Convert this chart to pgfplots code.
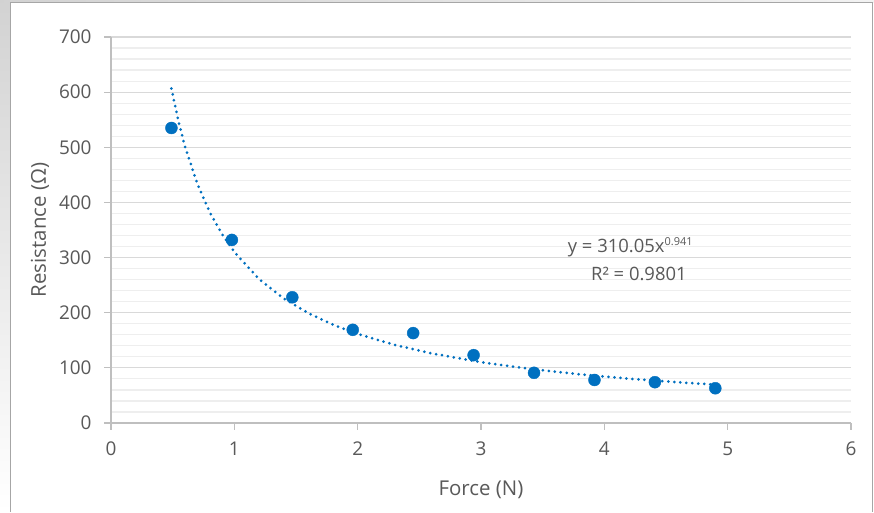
\documentclass[border=0pt]{standalone}
\usepackage{pgfplots}
\pgfplotsset{compat=1.18}
\usepackage{fontspec}
\setmainfont{Open Sans}
\definecolor{ptblue}{RGB}{0,112,192}
\definecolor{txtgray}{RGB}{89,89,89}
\definecolor{majgrid}{RGB}{217,217,217}
\definecolor{mingrid}{RGB}{238,238,238}
\definecolor{axgray}{RGB}{191,191,191}
\begin{document}
\begin{tikzpicture}[x=1bp,y=1bp]
\fill[white] (0,0) rectangle (874,512);
\fill[top color=gray!35, bottom color=white] (0,0) rectangle (10,512);
\fill[left color=gray!35, right color=gray!10] (0,509) rectangle (874,512);
\draw[gray!70, line width=1bp] (10,0) -- (10,509) -- (872,509) -- (872,0);
\useasboundingbox (0,0) rectangle (874,512);
\begin{axis}[
  at={(111bp,89bp)}, anchor=origin,
  scale only axis, width=740bp, height=386bp,
  xmin=0, xmax=6, ymin=0, ymax=700,
  xtick={0,1,...,6}, ytick={0,100,...,700},
  minor y tick num=4,
  ymajorgrids, yminorgrids,
  major grid style={majgrid, line width=1.2bp},
  minor grid style={mingrid, line width=1.2bp},
  axis x line*=bottom, axis y line*=left,
  axis line style={axgray, line width=1.2bp, -},
  tick style={axgray, line width=1.2bp},
  major tick length=7bp,
  tick align=outside,
  minor tick length=0pt,
  xtick pos=bottom, ytick pos=left,
  tick label style={font=\fontsize{19}{22}\selectfont, text=txtgray},
  xticklabel style={yshift=-8bp},
  yticklabel style={xshift=-9bp},
  /pgf/number format/assume math mode=true,
  xlabel={Force (N)}, ylabel={Resistance (Ω)},
  label style={font=\fontsize{20.5}{24}\selectfont, text=txtgray},
  xlabel style={yshift=-19bp},
  ylabel style={yshift=3bp},
  clip=false,
]
\addplot[ptblue, line width=3bp, line cap=round, dash pattern=on 0bp off 6bp] coordinates {
(0.49,606.6) (0.55,544.2) (0.6,501.4) (0.7,433.7) (0.8,382.5) (0.9,342.4)
(1.0,310.05) (1.2,261.2) (1.4,225.9) (1.6,199.2) (1.8,178.3) (2.0,161.5)
(2.3,141.6) (2.6,126.2) (3.0,110.3) (3.4,98.0) (3.8,88.3) (4.2,80.3)
(4.6,73.8) (4.9,69.5)
};
\addplot[only marks, mark=*, mark size=6bp, mark options={fill=ptblue, draw=ptblue}] coordinates {
(0.49,535) (0.98,332) (1.47,228) (1.96,169) (2.45,163)
(2.94,123) (3.43,91) (3.92,78) (4.41,74) (4.90,63)
};
\node[text=txtgray, font=\fontsize{18.5}{21}\selectfont] at (axis cs:4.21,319) {y = 310.05x\raisebox{6.5bp}{\fontsize{11}{12}\selectfont 0.941}};
\node[text=txtgray, font=\fontsize{18.5}{21}\selectfont] at (axis cs:4.28,270) {R² = 0.9801};
\end{axis}
\end{tikzpicture}
\end{document}
